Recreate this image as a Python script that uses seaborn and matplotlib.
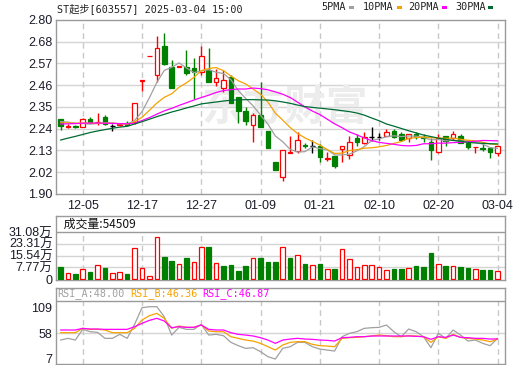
import numpy as np
import matplotlib
matplotlib.use("Agg")
import matplotlib.pyplot as plt
from matplotlib.patches import Rectangle
import seaborn as sns

# ---------------- data ----------------
dates = ["12-02", "12-03", "12-04", "12-05", "12-06", "12-09", "12-10", "12-11", "12-12", "12-13",
         "12-16", "12-17", "12-18", "12-19", "12-20", "12-23", "12-24", "12-25", "12-26", "12-27",
         "12-30", "12-31", "01-02", "01-03", "01-06", "01-07", "01-08", "01-09", "01-10", "01-13",
         "01-14", "01-15", "01-16", "01-17", "01-20", "01-21", "01-22", "01-23", "01-24", "01-27",
         "02-05", "02-06", "02-07", "02-10", "02-11", "02-12", "02-13", "02-14", "02-17", "02-18",
         "02-19", "02-20", "02-21", "02-24", "02-25", "02-26", "02-27", "02-28", "03-03", "03-04"]
tick_dates = ["12-05", "12-17", "12-27", "01-09", "01-21", "02-10", "02-20", "03-04"]

opens = [2.286, 2.248, 2.250, 2.248, 2.286, 2.270, 2.297, 2.250, 2.258, 2.268,
         2.274, 2.485, 2.612, 2.515, 2.665, 2.558, 2.558, 2.558, 2.550, 2.533,
         2.541, 2.481, 2.447, 2.504, 2.400, 2.331, 2.257, 2.309, 2.226, 2.067,
         1.986, 2.112, 2.122, 2.153, 2.148, 2.148, 2.083, 2.097, 2.131, 2.102,
         2.191, 2.162, 2.196, 2.196, 2.202, 2.226, 2.209, 2.188, 2.209, 2.196,
         2.171, 2.119, 2.200, 2.188, 2.200, 2.165, 2.143, 2.139, 2.136, 2.110]
highs = [2.290, 2.262, 2.256, 2.295, 2.297, 2.317, 2.307, 2.262, 2.262, 2.278,
         2.369, 2.488, 2.614, 2.719, 2.731, 2.593, 2.562, 2.645, 2.602, 2.667,
         2.654, 2.545, 2.541, 2.515, 2.400, 2.348, 2.317, 2.481, 2.226, 2.067,
         2.128, 2.202, 2.219, 2.165, 2.179, 2.159, 2.119, 2.097, 2.148, 2.200,
         2.209, 2.219, 2.245, 2.214, 2.236, 2.236, 2.222, 2.209, 2.222, 2.209,
         2.188, 2.209, 2.200, 2.227, 2.210, 2.179, 2.145, 2.157, 2.136, 2.148]
lows = [2.231, 2.240, 2.240, 2.248, 2.266, 2.258, 2.258, 2.228, 2.252, 2.259,
        2.262, 2.434, 2.612, 2.481, 2.566, 2.447, 2.556, 2.515, 2.390, 2.515,
        2.481, 2.459, 2.429, 2.373, 2.266, 2.257, 2.171, 2.245, 2.139, 2.024,
        1.969, 2.110, 2.110, 2.136, 2.110, 2.067, 2.071, 2.036, 2.067, 2.079,
        2.150, 2.160, 2.176, 2.179, 2.202, 2.191, 2.179, 2.171, 2.183, 2.171,
        2.076, 2.110, 2.148, 2.179, 2.165, 2.131, 2.110, 2.122, 2.088, 2.098]
closes = [2.252, 2.252, 2.246, 2.286, 2.271, 2.272, 2.260, 2.250, 2.262, 2.259,
          2.369, 2.488, 2.614, 2.654, 2.572, 2.447, 2.562, 2.524, 2.533, 2.614,
          2.481, 2.498, 2.490, 2.373, 2.331, 2.279, 2.309, 2.248, 2.139, 2.024,
          2.128, 2.116, 2.179, 2.148, 2.148, 2.090, 2.085, 2.045, 2.148, 2.167,
          2.171, 2.196, 2.196, 2.196, 2.219, 2.196, 2.179, 2.209, 2.193, 2.190,
          2.128, 2.188, 2.176, 2.209, 2.165, 2.141, 2.145, 2.131, 2.116, 2.148]

ma5 = [2.275, 2.272, 2.266, 2.265, 2.261, 2.265, 2.267, 2.268, 2.263, 2.261,
       2.280, 2.326, 2.398, 2.477, 2.539, 2.555, 2.578, 2.552, 2.528, 2.536,
       2.543, 2.530, 2.523, 2.491, 2.435, 2.394, 2.356, 2.308, 2.261, 2.200,
       2.170, 2.131, 2.117, 2.119, 2.144, 2.135, 2.129, 2.102, 2.102, 2.106,
       2.123, 2.145, 2.176, 2.185, 2.196, 2.201, 2.197, 2.200, 2.199, 2.193,
       2.180, 2.182, 2.175, 2.178, 2.173, 2.176, 2.167, 2.158, 2.140, 2.136]
ma10 = [2.268, 2.268, 2.266, 2.267, 2.266, 2.266, 2.266, 2.266, 2.264, 2.261,
        2.273, 2.297, 2.333, 2.370, 2.400, 2.418, 2.452, 2.475, 2.503, 2.538,
        2.549, 2.554, 2.538, 2.510, 2.486, 2.469, 2.443, 2.416, 2.376, 2.318,
        2.282, 2.244, 2.213, 2.190, 2.172, 2.153, 2.130, 2.110, 2.111, 2.125,
        2.129, 2.137, 2.139, 2.144, 2.151, 2.162, 2.171, 2.188, 2.192, 2.195,
        2.191, 2.190, 2.188, 2.189, 2.183, 2.178, 2.175, 2.167, 2.159, 2.155]
ma20 = [2.262, 2.263, 2.264, 2.266, 2.267, 2.267, 2.266, 2.265, 2.264, 2.263,
        2.266, 2.280, 2.295, 2.313, 2.330, 2.343, 2.358, 2.372, 2.386, 2.399,
        2.411, 2.425, 2.435, 2.440, 2.443, 2.443, 2.448, 2.445, 2.439, 2.428,
        2.416, 2.399, 2.375, 2.350, 2.329, 2.311, 2.287, 2.263, 2.243, 2.221,
        2.206, 2.190, 2.176, 2.167, 2.162, 2.157, 2.151, 2.149, 2.151, 2.160,
        2.160, 2.163, 2.163, 2.166, 2.167, 2.170, 2.173, 2.177, 2.176, 2.175]
ma30 = [2.179, 2.189, 2.198, 2.208, 2.218, 2.226, 2.233, 2.240, 2.246, 2.250,
        2.262, 2.274, 2.287, 2.300, 2.312, 2.324, 2.334, 2.345, 2.355, 2.366,
        2.371, 2.376, 2.381, 2.385, 2.387, 2.388, 2.388, 2.387, 2.386, 2.382,
        2.376, 2.369, 2.360, 2.352, 2.348, 2.344, 2.340, 2.336, 2.331, 2.326,
        2.319, 2.308, 2.293, 2.279, 2.262, 2.251, 2.239, 2.227, 2.216, 2.205,
        2.197, 2.189, 2.183, 2.177, 2.173, 2.167, 2.164, 2.162, 2.160, 2.159]

# volume in 万 (10k shares)
volume = [7.7, 3.7, 3.1, 6.4, 4.6, 9.0, 7.1, 3.7, 4.4, 3.3,
          20.3, 7.1, 1.8, 27.6, 14.5, 11.9, 9.9, 13.9, 11.0, 20.9,
          21.2, 10.6, 8.6, 9.3, 5.3, 8.6, 13.7, 14.1, 11.5, 11.5,
          20.9, 14.1, 15.9, 9.9, 9.3, 9.9, 6.4, 6.6, 19.6, 13.0,
          7.7, 9.3, 9.3, 7.7, 6.0, 6.6, 6.6, 7.1, 8.6, 7.9,
          17.4, 9.9, 8.6, 8.4, 7.9, 7.3, 6.4, 6.0, 6.0, 5.45]
volume_dir = ["G", "R", "G", "R", "G", "R", "G", "R", "R", "G",
              "R", "R", "R", "R", "G", "G", "R", "G", "R", "R",
              "G", "R", "G", "G", "G", "G", "R", "G", "G", "G",
              "R", "G", "R", "G", "R", "G", "R", "G", "R", "R",
              "R", "R", "R", "R", "R", "G", "G", "R", "G", "G",
              "G", "R", "G", "R", "G", "G", "R", "G", "G", "R"]
vol_ticks = [0, 7.77, 15.54, 23.31, 31.08]
vol_labels = ["0", "7.77万", "15.54万", "23.31万", "31.08万"]

rsi_a = [44.5, 47.9, 44.5, 65.9, 61.2, 59.9, 47.9, 47.9, 55.9, 47.9,
         75.9, 109.2, 111.2, 111.2, 91.2, 54.5, 69.9, 65.9, 65.9, 75.9,
         54.5, 55.9, 53.2, 39.9, 33.2, 27.9, 29.2, 21.2, 11.2, 6.5,
         27.9, 31.2, 39.9, 39.9, 31.2, 26.5, 24.5, 22.5, 51.2, 57.9,
         61.2, 67.9, 69.2, 69.9, 74.6, 61.2, 51.2, 66.6, 61.2, 51.2,
         29.2, 57.9, 47.9, 64.6, 54.5, 42.5, 44.5, 37.9, 33.2, 48.0]
rsi_b = [59.2, 59.2, 59.2, 67.9, 65.9, 65.9, 64.6, 59.2, 59.2, 59.2,
         67.9, 84.6, 93.2, 97.9, 87.9, 67.9, 72.6, 69.9, 69.9, 74.6,
         62.6, 61.2, 61.2, 51.2, 47.9, 44.5, 42.5, 37.9, 31.2, 24.5,
         34.6, 39.9, 41.2, 41.2, 35.9, 33.2, 32.5, 31.2, 47.9, 49.2,
         49.9, 51.2, 52.6, 54.5, 53.2, 51.2, 51.2, 53.2, 52.6, 51.2,
         39.9, 51.2, 47.9, 55.9, 49.9, 47.9, 46.5, 44.5, 41.2, 46.36]
rsi_c = [64.6, 64.6, 64.6, 67.9, 66.6, 66.6, 65.9, 65.9, 65.9, 65.9,
         71.2, 77.9, 83.9, 87.9, 82.6, 69.2, 71.2, 69.9, 69.9, 74.6,
         65.9, 64.6, 64.6, 59.2, 55.9, 54.5, 52.6, 49.2, 44.5, 37.9,
         44.5, 46.5, 47.9, 46.5, 45.9, 44.5, 43.9, 42.5, 49.2, 49.9,
         51.2, 51.2, 52.6, 52.6, 52.6, 52.6, 52.6, 52.6, 51.9, 51.2,
         45.9, 51.2, 49.9, 54.5, 49.9, 49.2, 47.9, 47.9, 46.5, 46.87]
rsi_ticks = [7, 58, 109]

price_ticks = [1.90, 2.0125, 2.125, 2.2375, 2.35, 2.4625, 2.575, 2.6875, 2.80]
price_labels = ["1.90", "2.02", "2.13", "2.24", "2.35", "2.46", "2.57", "2.68", "2.80"]

title_text = "ST起步[603557] 2025-03-04 15:00"
ma_names = ["5PMA", "10PMA", "20PMA", "30PMA"]
vol_header = "成交量:54509"
rsi_header = ["RSI_A:48.00", "RSI_B:46.36", "RSI_C:46.87"]

# ---------------- style ----------------
sns.set_theme(style="white")
plt.rcParams["font.family"] = ["Liberation Sans", "Noto Sans CJK SC", "DejaVu Sans"]
MONO = ["DejaVu Sans Mono", "Noto Sans CJK SC"]

RED = "#FF0000"
GREEN = "#008000"
C_MA = ["#A0A0A0", "#F5A200", "#FF00FF", "#006B33"]
GRID = "#D4D4D4"
DASH = "#C8C8C8"
BORDER = "#9A9A9A"
TXT = "#1C1C2A"

W, H = 520, 365
fig = plt.figure(figsize=(W / 100, H / 100), dpi=100)


def rect(x0, y0, x1, y1):
    return [x0 / W, 1 - y1 / H, (x1 - x0) / W, (y1 - y0) / H]


ax = fig.add_axes(rect(56, 20, 505, 194))
axv = fig.add_axes(rect(56, 216, 505, 280))
axr = fig.add_axes(rect(56, 288, 505, 364))

n = len(dates)
x = np.arange(n)
tick_pos = [dates.index(d) for d in tick_dates]
XLIM = (-0.61, 60.0)

for a in (ax, axv, axr):
    a.set_xlim(*XLIM)
    for s in a.spines.values():
        s.set_color(BORDER)
        s.set_linewidth(1.0)
    a.tick_params(length=0, colors=TXT, labelsize=9)
    a.set_facecolor("white")

# ---------------- price panel ----------------
ax.set_ylim(1.90, 2.80)
ax.set_yticks(price_ticks)
ax.set_yticklabels(price_labels)
ax.tick_params(axis="y", pad=2.5)
ax.tick_params(axis="x", pad=4)
ax.set_xticks(tick_pos)
ax.set_xticklabels(tick_dates)
for t in price_ticks[1:-1]:
    ax.axhline(t, color=GRID, lw=1.0, zorder=0.5)
for p in tick_pos:
    ax.axvline(p, color=DASH, lw=1.0, ls=(0, (4, 3)), zorder=0.5)

ax.text(0.51, 0.50, "东方财富", transform=ax.transAxes, ha="center", va="center",
        fontsize=30, color="#ECECEC", fontweight="bold",
        family=["Noto Sans CJK SC"], zorder=0.6)

body_w = 0.62
for i in range(n):
    o, h, l, c = opens[i], highs[i], lows[i], closes[i]
    if c > o:
        col = RED
    elif c < o:
        col = GREEN
    else:
        col = "#000000"
    ax.vlines(i, l, h, color=col, lw=1.0, zorder=2)
    if col == "#000000":
        ax.hlines(o, i - body_w / 2, i + body_w / 2, color=col, lw=1.0, zorder=3)
    else:
        bottom = min(o, c)
        height = max(abs(c - o), 0.002)
        face = "white" if col == RED else GREEN
        ax.bar(i, height, bottom=bottom, width=body_w, facecolor=face,
               edgecolor=col, linewidth=0.9, zorder=3)

for series, col in zip([ma5, ma10, ma20, ma30], C_MA):
    sns.lineplot(x=x, y=series, ax=ax, color=col, linewidth=0.9, legend=False, zorder=4)
ax.set_xlim(*XLIM)
ax.set_ylim(1.90, 2.80)
ax.set_xlabel("")
ax.set_ylabel("")

# ---------------- volume panel ----------------
VTOP = 31.08
axv.set_ylim(-0.66, 41.66)
axv.set_yticks(vol_ticks)
axv.set_yticklabels(vol_labels)
axv.tick_params(axis="y", pad=2.5, labelsize=9)
axv.set_xticks([])
for t in vol_ticks[1:-1]:
    axv.axhline(t, color=GRID, lw=1.0, zorder=0.5)
axv.axhline(VTOP, color=BORDER, lw=1.0, zorder=5)
axv.vlines(tick_pos, -0.66, VTOP, color=DASH, lw=1.0, ls=(0, (4, 3)), zorder=0.5)
for i in range(n):
    if volume_dir[i] == "R":
        axv.bar(i, volume[i], width=body_w, facecolor="white", edgecolor=RED,
                linewidth=0.9, zorder=3)
    else:
        axv.bar(i, volume[i], width=body_w, facecolor=GREEN, edgecolor=GREEN,
                linewidth=0.9, zorder=3)
axv.text(0.0, 36.3, " " + vol_header, ha="left", va="center", fontsize=8.6,
         color="#111111", family=["Noto Sans CJK SC"])

# ---------------- RSI panel ----------------
RTOP = 122.6
axr.set_ylim(-3.4, 148.6)
axr.set_yticks(rsi_ticks)
axr.set_yticklabels([str(v) for v in rsi_ticks])
axr.tick_params(axis="y", pad=2.5, labelsize=9)
axr.set_xticks([])
axr.axhline(58, color=GRID, lw=1.0, zorder=0.5)
axr.axhline(RTOP, color=BORDER, lw=1.0, zorder=5)
axr.vlines(tick_pos, -3.4, RTOP, color=DASH, lw=1.0, ls=(0, (4, 3)), zorder=0.5)
for series, col in zip([rsi_a, rsi_b, rsi_c], C_MA[:3]):
    sns.lineplot(x=x, y=series, ax=axr, color=col, linewidth=0.9, legend=False, zorder=4)
axr.set_xlim(*XLIM)
axr.set_ylim(-3.4, 148.6)
axr.set_xlabel("")
axr.set_ylabel("")
rsi_x = [57.5, 130, 202]
for txt, col, px in zip(rsi_header, C_MA[:3], rsi_x):
    fig.text(px / W, 1 - 294 / H, txt, ha="left", va="center", fontsize=7.3,
             color=col, family=MONO)

# ---------------- header ----------------
fig.text(57 / W, 1 - 8.5 / H, title_text, ha="left", va="center", fontsize=7.3,
         color="#222222", family=MONO)
leg_x = [321.5, 363, 408, 455]
sq_x = [349, 397, 442, 488]
for name, col, tx, sx in zip(ma_names, C_MA, leg_x, sq_x):
    fig.text(tx / W, 1 - 7.5 / H, name, ha="left", va="center", fontsize=7.3,
             color="#222222", family=MONO)
    fig.patches.append(Rectangle((sx / W, 1 - 9 / H), 5 / W, 3 / H,
                                 transform=fig.transFigure, facecolor=col,
                                 edgecolor="none"))

fig.savefig("out.png", dpi=100)
